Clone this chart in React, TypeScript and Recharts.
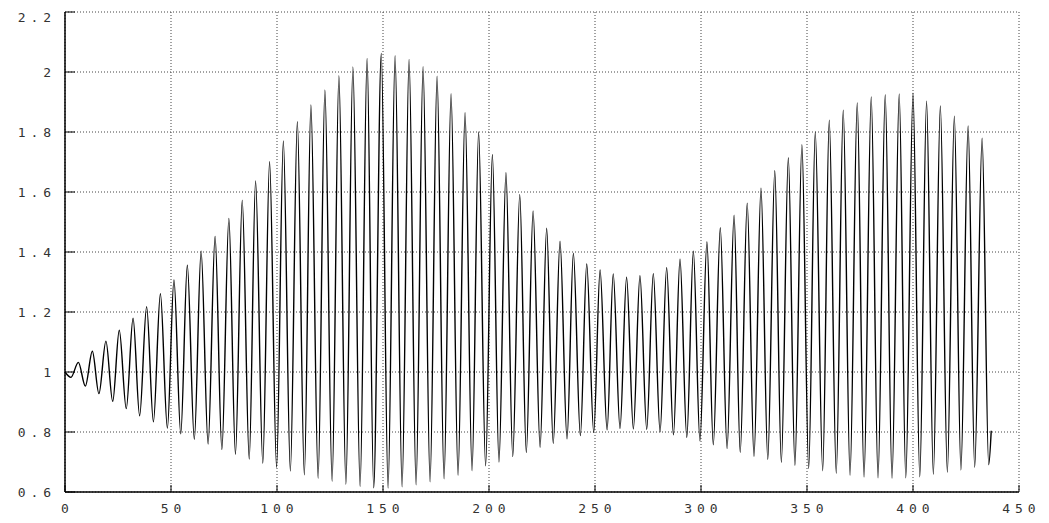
import { LineChart, Line, XAxis, YAxis, CartesianGrid } from "recharts";

// local maxima of the signal (time, value)
const peakTimes = [
  6.3, 12.9, 19.3, 25.6, 32.1, 38.5, 45.0, 51.4, 57.7, 64.2, 70.8, 77.3, 83.6,
  89.9, 96.5, 103.0, 109.6, 116.0, 122.6, 129.2, 135.8, 142.5, 149.2, 155.7,
  162.3, 168.9, 175.5, 182.1, 188.7, 195.1, 201.6, 208.0, 214.5, 220.8, 227.2,
  233.5, 239.8, 246.1, 252.4, 258.6, 264.9, 271.2, 277.5, 283.8, 290.1, 296.4,
  302.8, 309.1, 315.6, 321.8, 328.3, 334.8, 341.2, 347.6, 353.9, 360.5, 367.1,
  373.7, 380.3, 386.9, 393.5, 400.0, 406.4, 412.9, 419.5, 426.0, 432.6,
];
const peakValues = [
  1.032, 1.069, 1.103, 1.139, 1.179, 1.218, 1.261, 1.307, 1.356, 1.403, 1.452,
  1.512, 1.573, 1.637, 1.701, 1.77, 1.834, 1.89, 1.94, 1.988, 2.017, 2.045,
  2.062, 2.054, 2.042, 2.018, 1.986, 1.928, 1.864, 1.8, 1.725, 1.664, 1.592,
  1.537, 1.479, 1.436, 1.396, 1.36, 1.34, 1.327, 1.316, 1.321, 1.328, 1.348,
  1.376, 1.403, 1.434, 1.481, 1.523, 1.563, 1.613, 1.671, 1.714, 1.758, 1.8,
  1.839, 1.873, 1.897, 1.917, 1.924, 1.927, 1.929, 1.903, 1.887, 1.853, 1.82,
  1.779,
];

// local minima
const troughTimes = [
  2.8, 9.6, 16.0, 22.5, 28.9, 35.2, 41.7, 48.3, 54.6, 61.0, 67.5, 74.0, 80.4,
  86.9, 93.3, 99.8, 106.3, 112.9, 119.4, 126.0, 132.5, 139.2, 145.6, 152.4,
  159.0, 165.6, 172.2, 178.8, 185.4, 192.0, 198.4, 204.7, 211.2, 217.6, 224.1,
  230.3, 236.8, 243.1, 249.4, 255.7, 261.8, 268.1, 274.4, 280.7, 287.0, 293.3,
  299.5, 305.8, 312.3, 318.5, 325.0, 331.5, 337.9, 344.3, 350.8, 357.4, 363.8,
  370.3, 376.9, 383.5, 390.1, 396.6, 403.2, 409.6, 416.2, 422.6, 429.1, 435.7,
];
const troughValues = [
  0.982, 0.953, 0.928, 0.902, 0.878, 0.854, 0.834, 0.813, 0.794, 0.776, 0.76,
  0.742, 0.726, 0.71, 0.696, 0.682, 0.67, 0.657, 0.646, 0.636, 0.626, 0.618,
  0.614, 0.613, 0.617, 0.624, 0.634, 0.644, 0.656, 0.671, 0.687, 0.7, 0.718,
  0.732, 0.749, 0.762, 0.777, 0.788, 0.799, 0.807, 0.812, 0.81, 0.809, 0.801,
  0.791, 0.782, 0.771, 0.757, 0.745, 0.732, 0.719, 0.709, 0.699, 0.689, 0.679,
  0.671, 0.662, 0.656, 0.65, 0.647, 0.646, 0.647, 0.651, 0.659, 0.666, 0.673,
  0.682, 0.691,
];

const startPoint = { t: 0, v: 1.0 };
const endPoint = { t: 436.9, v: 0.804 };

const xTicks = [0, 50, 100, 150, 200, 250, 300, 350, 400, 450];
const yTicks = [0.6, 0.8, 1, 1.2, 1.4, 1.6, 1.8, 2, 2.2];

const data = [
  startPoint,
  ...peakTimes.map((t, i) => ({ t, v: peakValues[i] })),
  ...troughTimes.map((t, i) => ({ t, v: troughValues[i] })),
  endPoint,
].sort((a, b) => a.t - b.t);

// wide, spaced-out monospace tick labels
const FONT_SIZE = 13;
const ADVANCE = FONT_SIZE * 0.602;
const SPACING = 4.9;
const labelWidth = (s: string) => s.length * ADVANCE + (s.length - 1) * SPACING;

const labelStyle = {
  fill: "#333",
  fontSize: FONT_SIZE,
  fontFamily: "DejaVu Sans Mono",
  letterSpacing: SPACING,
};

function BottomLabel({ x, y, payload }: any) {
  const s = String(payload.value);
  return (
    <text x={x - labelWidth(s) / 2} y={y + 9} textAnchor="start" {...labelStyle}>
      {s}
    </text>
  );
}

function LeftLabel({ x, y, payload }: any) {
  const s = String(payload.value);
  return (
    <text x={x - labelWidth(s)} y={y + 4.7} textAnchor="start" {...labelStyle}>
      {s}
    </text>
  );
}

const frame = { stroke: "#000", strokeWidth: 1.5 };
const tickMark = { stroke: "#000", strokeWidth: 1 };
const blank = () => "";

export default function App() {
  return (
    <LineChart
      width={1040}
      height={515}
      data={data}
      margin={{ top: 4, right: 29, bottom: 1, left: 0 }}
    >
      <CartesianGrid stroke="#444" strokeDasharray="1 2" />
      <XAxis
        dataKey="t"
        type="number"
        domain={[0, 450]}
        ticks={xTicks}
        height={30}
        axisLine={frame}
        tickLine={tickMark}
        tickSize={-7}
        tickMargin={19}
        tick={<BottomLabel />}
      />
      <XAxis
        xAxisId="top"
        orientation="top"
        type="number"
        domain={[0, 450]}
        ticks={xTicks}
        height={0}
        axisLine={frame}
        tickLine={tickMark}
        tickSize={-7}
        tickFormatter={blank}
      />
      <YAxis
        type="number"
        domain={[0.6, 2.2]}
        ticks={yTicks}
        width={57}
        axisLine={frame}
        tickLine={tickMark}
        tickSize={-10}
        tickMargin={24}
        tick={<LeftLabel />}
      />
      <YAxis
        yAxisId="right"
        orientation="right"
        type="number"
        domain={[0.6, 2.2]}
        ticks={yTicks}
        width={0}
        axisLine={frame}
        tickLine={tickMark}
        tickSize={-10}
        tickFormatter={blank}
      />
      <Line
        type="monotone"
        dataKey="v"
        stroke="#000"
        strokeWidth={1.4}
        dot={false}
        isAnimationActive={false}
      />
    </LineChart>
  );
}
